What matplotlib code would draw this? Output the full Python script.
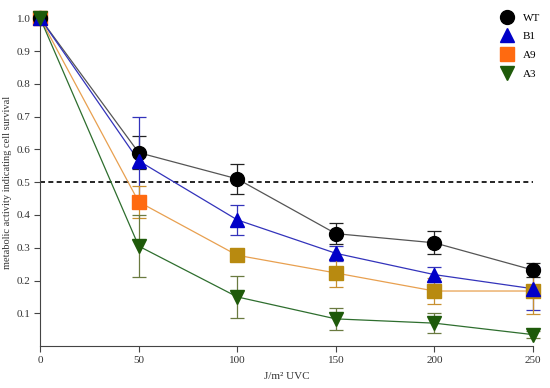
import matplotlib
matplotlib.use("Agg")
import matplotlib.pyplot as plt
from matplotlib.lines import Line2D

plt.rcParams["font.family"] = ["Liberation Serif", "DejaVu Serif"]

dose = [0, 50, 100, 150, 200, 250]

wt = [1.0, 0.59, 0.51, 0.343, 0.315, 0.232]
wt_err = [0.0, 0.05, 0.045, 0.032, 0.035, 0.022]
b1 = [1.0, 0.565, 0.385, 0.283, 0.218, 0.175]
b1_err = [0.0, 0.135, 0.045, 0.022, 0.022, 0.065]
a9 = [1.0, 0.44, 0.277, 0.223, 0.168, 0.168]
a9_err = [0.0, 0.048, 0.012, 0.042, 0.04, 0.07]
a3 = [1.0, 0.305, 0.15, 0.083, 0.07, 0.035]
a3_err = [0.0, 0.095, 0.065, 0.033, 0.03, 0.01]

names = ["WT", "B1", "A9", "A3"]

fig = plt.figure(figsize=(5.5, 3.88), dpi=100)
ax = fig.add_axes([0.073, 0.108, 0.896, 0.845])

# 50% survival line
ax.plot([0, 250], [0.5, 0.5], color="black", ls=(0, (3, 2)), lw=1.2, zorder=1)

series = [
    (wt, wt_err, "#555555", "#222222", "o", "black", 10),
    (b1, b1_err, "#3333bb", "#3333bb", "^", "#0000c8", 10),
    (a9, a9_err, "#e8a050", "#c89030", "s", "#ff6a10", 10),
    (a3, a3_err, "#2e6e2e", "#6a7a40", "v", "#1e5a0a", 10),
]

for ys, es, lc, ec, mk, mc, ms in series:
    ax.plot(dose, ys, color=lc, lw=0.9, zorder=2)
    ax.errorbar(dose, ys, yerr=es, fmt="none", ecolor=ec, elinewidth=0.9,
                capsize=5, capthick=0.9, zorder=3, clip_on=False)

for ys, es, lc, ec, mk, mc, ms in series:
    if mk == "s":
        cols = ["#ff6a10", "#ff6a10", "#b88a10", "#b88a10", "#b88a10", "#b88a10"]
        for x, y, c in zip(dose, ys, cols):
            ax.plot(x, y, marker=mk, ms=ms, color=c, ls="none", zorder=4, clip_on=False)
    else:
        ax.plot(dose, ys, marker=mk, ms=ms, color=mc, ls="none", zorder=5, clip_on=False)

ax.set_xlim(0, 250)
ax.set_ylim(0, 1.0)
ax.set_xticks(dose)
ax.set_yticks([0.1, 0.2, 0.3, 0.4, 0.5, 0.6, 0.7, 0.8, 0.9, 1.0])
ax.set_yticklabels(["0.1", "0.2", "0.3", "0.4", "0.5", "0.6", "0.7", "0.8", "0.9", "1.0"])
ax.tick_params(labelsize=8, color="#444444", labelcolor="#333333", length=4, width=0.8, pad=3)
for s in ["top", "right"]:
    ax.spines[s].set_visible(False)
for s in ["left", "bottom"]:
    ax.spines[s].set_color("#444444")
    ax.spines[s].set_linewidth(0.8)

ax.set_xlabel("J/m² UVC", fontsize=8, color="#333333", labelpad=5)
ax.set_ylabel("metabolic activity indicating cell survival", fontsize=7.5, color="#333333")
ax.yaxis.set_label_coords(-0.058, 0.5)

handles = [Line2D([], [], marker=mk, color=mc, ls="none", ms=ms)
           for (_, _, _, _, mk, mc, ms) in series]
ax.legend(handles, names, loc="upper right", bbox_to_anchor=(1.03, 1.04), frameon=False,
          fontsize=8, handletextpad=0.4, labelspacing=0.8, borderaxespad=0.3)

fig.savefig("out.png", dpi=100)
